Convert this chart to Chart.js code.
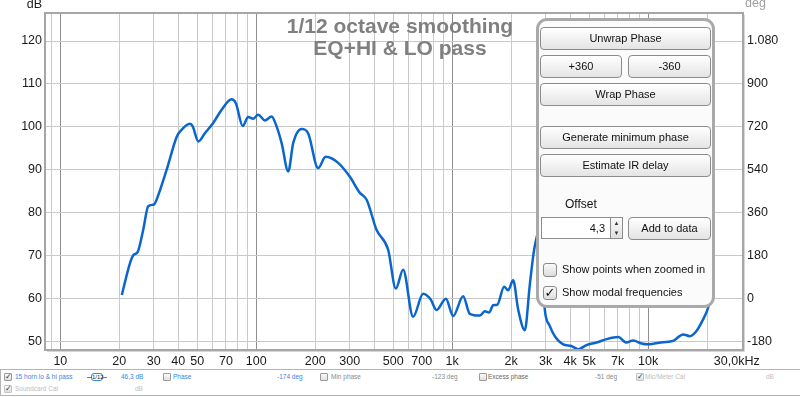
<!DOCTYPE html>
<html>
<head>
<meta charset="utf-8">
<script src="https://cdn.jsdelivr.net/npm/chart.js@4/dist/chart.umd.min.js"></script>
<style>
  html, body { margin: 0; padding: 0; background: #fff; }
  body { width: 800px; height: 397px; position: relative; overflow: hidden; font-family: "Liberation Sans", Arial, sans-serif; }
  #chart { position: absolute; left: 0; top: 0; }
  .abs { position: absolute; }
  .panel { left: 536px; top: 18px; width: 179px; height: 290px; box-sizing: border-box;
           border: 3px solid #a9a9a9; border-radius: 11px; background: #fbfbfb; }
  .btn { box-sizing: border-box; border: 1px solid #8c8c8c; border-radius: 4px;
         background: linear-gradient(#ffffff, #e4e4e4); font-size: 11px; color: #111;
         text-align: center; }
  .cb { box-sizing: border-box; width: 14px; height: 14px; border: 1px solid #8a8a8a; border-radius: 3px;
        background: linear-gradient(#fafafa, #dcdcdc); font-family: "DejaVu Sans", sans-serif;
        font-size: 13px; font-weight: bold; line-height: 12px; text-align: center; color: #111; }
  .lbl { font-size: 11px; color: #111; white-space: nowrap; }
  .legend { left: 0; top: 369px; width: 800px; height: 27px; box-sizing: border-box;
            border-top: 1px solid #b4b4b4; border-bottom: 1px solid #b4b4b4; border-left: 1px solid #b4b4b4; background: #fff; }
  .lg { font-size: 6.5px; white-space: nowrap; }
  .blue { color: #3a84e0; }
  .gray { color: #8a8a8a; }
  .lgray { color: #bdbdbd; }
  .mini { box-sizing: border-box; width: 8px; height: 8px; border: 1px solid #9a9a9a; border-radius: 1px;
          background: linear-gradient(#fafafa, #e0e0e0); font-family: "DejaVu Sans", sans-serif;
          font-size: 8px; line-height: 6px; text-align: center; font-weight: bold; color: #333; }
</style>
</head>
<body>
<canvas id="chart" width="800" height="369"></canvas>

<!-- phase tool panel over the plot -->
<div class="abs panel"></div>
<div class="abs btn" style="left:540px;top:27px;width:171px;height:23px;line-height:21px;">Unwrap Phase</div>
<div class="abs btn" style="left:540px;top:55px;width:82px;height:23px;line-height:21px;">+360</div>
<div class="abs btn" style="left:628px;top:55px;width:83px;height:23px;line-height:21px;">-360</div>
<div class="abs btn" style="left:540px;top:83px;width:171px;height:23px;line-height:21px;">Wrap Phase</div>
<div class="abs btn" style="left:540px;top:126px;width:171px;height:23px;line-height:21px;">Generate minimum phase</div>
<div class="abs btn" style="left:540px;top:154px;width:171px;height:23px;line-height:21px;">Estimate IR delay</div>
<div class="abs lbl" style="left:565px;top:197px;font-size:12px;">Offset</div>
<div class="abs" style="left:541px;top:217px;width:70px;height:22px;box-sizing:border-box;border:1px solid #8c8c8c;background:#fff;font-size:11px;text-align:right;padding-right:5px;line-height:20px;color:#111;">4,3</div>
<div class="abs" style="left:610px;top:217px;width:13px;height:22px;box-sizing:border-box;border:1px solid #8c8c8c;background:linear-gradient(#fafafa,#e0e0e0);font-size:6px;line-height:10px;text-align:center;color:#333;">&#9650;<br>&#9660;</div>
<div class="abs btn" style="left:628px;top:217px;width:83px;height:23px;line-height:21px;">Add to data</div>
<div class="abs cb" style="left:543px;top:263px;"></div>
<div class="abs lbl" style="left:562px;top:263px;">Show points when zoomed in</div>
<div class="abs cb" style="left:543px;top:286px;">&#10003;</div>
<div class="abs lbl" style="left:562px;top:286px;">Show modal frequencies</div>

<!-- trace legend strip -->
<div class="abs legend"></div>
<div class="abs mini" style="left:4px;top:373px;">&#10003;</div>
<div class="abs lg blue" style="left:15px;top:373px;">15 horn lo &amp; hi pass</div>
<div class="abs" style="left:87px;top:373px;width:20px;height:8px;">
  <div class="abs" style="left:0;top:4px;width:20px;height:1px;background:#3a84e0;"></div>
  <div class="abs" style="left:4px;top:0;width:12px;height:8px;box-sizing:border-box;border:1px solid #3a84e0;border-radius:3px;background:#fff;font-size:6px;line-height:6px;text-align:center;color:#234;">1/12</div>
</div>
<div class="abs lg blue" style="left:121px;top:373px;">46,3 dB</div>
<div class="abs mini" style="left:163px;top:373px;"></div>
<div class="abs lg blue" style="left:173px;top:373px;">Phase</div>
<div class="abs lg blue" style="left:277px;top:373px;">-174 deg</div>
<div class="abs mini" style="left:320px;top:373px;"></div>
<div class="abs lg gray" style="left:331px;top:373px;">Min phase</div>
<div class="abs lg gray" style="left:432px;top:373px;">-123 deg</div>
<div class="abs mini" style="left:479px;top:373px;"></div>
<div class="abs lg" style="left:488px;top:373px;color:#666;">Excess phase</div>
<div class="abs lg gray" style="left:595px;top:373px;">-51 deg</div>
<div class="abs mini lgray" style="left:636px;top:373px;border-color:#c4c4c4;">&#10003;</div>
<div class="abs lg lgray" style="left:645px;top:373px;">Mic/Meter Cal</div>
<div class="abs lg lgray" style="left:766px;top:373px;">dB</div>
<div class="abs mini lgray" style="left:4px;top:385px;border-color:#c4c4c4;">&#10003;</div>
<div class="abs lg lgray" style="left:15px;top:385px;">Soundcard Cal</div>
<div class="abs lg lgray" style="left:135px;top:385px;">dB</div>

<script>
// Messkurve (Frequenz in Hz, Pegel in dB)
const freqs = [20.6, 22.7, 23.6, 24.8, 26.5, 28.1, 30.1, 31.0, 34.9, 39.3, 41.6, 45.9, 47.4, 50.6,
    54.7, 60.3, 66.6, 74.8, 78.7, 85.3, 91.0, 96.6, 102.3, 110.7, 119.8, 127, 134.8, 145.7,
    154.4, 170.4, 184, 207, 226, 262, 300, 338, 366, 411, 471, 516, 562, 632, 711, 776, 832,
    929, 1012, 1138, 1231, 1384, 1468, 1545, 1619, 1698, 1843, 1930, 2048, 2173, 2349, 2488,
    2580, 2642, 2800, 2972, 3150, 3340, 3685, 4060, 4395, 4850, 5458, 6138, 7035, 7762, 8395,
    9255, 10000, 11930, 13430, 15100, 16340, 17670, 19100, 20250, 21500];
const spl = [60.8, 68.3, 70.1, 70.8, 76.0, 81.5, 81.9, 83.0, 90.0, 97.7, 99.3, 100.7, 100.1, 96.6,
    98.5, 100.9, 104.0, 106.4, 105.5, 100.2, 102.3, 101.9, 102.8, 101.5, 102.4, 100.1, 96.2, 89.6,
    96.2, 99.5, 98.5, 90.4, 93.0, 91.6, 88.4, 84.6, 83.0, 76.0, 71.4, 62.3, 66.7, 55.7, 61.1, 59.8, 57.3,
    59.9, 55.9, 60.5, 56.4, 56.0, 57.0, 56.7, 58.4, 58.5, 62.7, 61.9, 64.2, 57.4, 52.6, 62.9,
    69.1, 72.2, 76.0, 57.4, 53.6, 51.2, 49.3, 48.9, 48.1, 49.1, 49.7, 50.5, 51.0, 49.7, 50.2,
    49.5, 49.3, 49.8, 50.1, 51.6, 51.2, 52.4, 55.1, 57.8, 63.0];

// Achsen
const freqGrid = [9, 10, 20, 30, 40, 50, 60, 70, 80, 90, 100, 200, 300, 400, 500, 600, 700, 800, 900,
    1000, 2000, 3000, 4000, 5000, 6000, 7000, 8000, 9000, 10000, 20000];
const freqLabels = {10: '10', 20: '20', 30: '30', 40: '40', 50: '50', 70: '70', 100: '100', 200: '200',
    300: '300', 500: '500', 700: '700', 1000: '1k', 2000: '2k', 3000: '3k', 4000: '4k', 5000: '5k',
    7000: '7k', 10000: '10k', 28360: '30,0kHz'};
const majorFreqs = [10, 100, 1000, 10000];
const dbTicks = [50, 60, 70, 80, 90, 100, 110, 120];
const degTicks = [-180, 0, 180, 360, 540, 720, 900, 1080];

const dbMin = 48.2, dbMax = 126.3;
const fMin = 8.45, fMax = 30170;

const fontFamily = '"Liberation Sans", Arial, sans-serif';

const framePlugin = {
    id: 'frame',
    beforeDraw(chart) {
        const ctx = chart.ctx;
        ctx.save();
        ctx.fillStyle = '#fff';
        ctx.fillRect(0, 0, chart.width, chart.height);
        ctx.restore();
    },
    afterDraw(chart) {
        const { ctx, chartArea: a } = chart;
        ctx.save();
        ctx.strokeStyle = '#a6a6a6';
        ctx.lineWidth = 2;
        ctx.strokeRect(a.left - 1, a.top - 1, a.right - a.left + 2, a.bottom - a.top + 2);
        ctx.strokeStyle = '#d6d6d6';
        ctx.lineWidth = 1;
        ctx.beginPath();
        ctx.moveTo(a.left + 1, a.bottom + 2.5);
        ctx.lineTo(a.right + 2.5, a.bottom + 2.5);
        ctx.lineTo(a.right + 2.5, a.top + 1);
        ctx.stroke();

        // Titel
        ctx.fillStyle = '#808080';
        ctx.font = 'bold 21px ' + fontFamily;
        ctx.textAlign = 'center';
        ctx.fillText('1/12 octave smoothing', 400, 33);
        ctx.fillText('EQ+HI & LO pass', 400, 55);

        // Einheiten
        ctx.font = '12.5px ' + fontFamily;
        ctx.textAlign = 'right';
        ctx.fillStyle = '#1a1a1a';
        ctx.fillText('dB', 42, 8);
        ctx.textAlign = 'left';
        ctx.fillStyle = '#a0a0a0';
        ctx.fillText('deg', 745, 7);
        ctx.restore();
    }
};

new Chart(document.getElementById('chart'), {
    type: 'line',
    data: {
        datasets: [{
            data: freqs.map((f, i) => ({ x: f, y: spl[i] })),
            borderColor: '#0a66cc',
            borderWidth: 2.5,
            pointRadius: 0,
            cubicInterpolationMode: 'monotone',
            fill: false
        }]
    },
    options: {
        responsive: false,
        animation: false,
        layout: { padding: { top: 14, left: 0, right: 0, bottom: 0 } },
        plugins: { legend: { display: false }, tooltip: { enabled: false } },
        scales: {
            x: {
                type: 'logarithmic',
                min: fMin,
                max: fMax,
                afterBuildTicks: scale => {
                    scale.ticks = freqGrid.concat([28360]).map(v => ({ value: v }));
                },
                afterFit: scale => { scale.height = 20; },
                border: { display: false },
                grid: {
                    drawTicks: false,
                    color: ctx => {
                        const v = ctx.tick ? ctx.tick.value : 0;
                        if (v === 28360) return 'rgba(0,0,0,0)';
                        return majorFreqs.includes(v) ? '#8e8e8e' : '#c9c9c9';
                    }
                },
                ticks: {
                    autoSkip: false,
                    maxRotation: 0,
                    padding: 5,
                    color: '#1a1a1a',
                    font: { family: fontFamily, size: 12.5 },
                    callback: v => freqLabels[v] || ''
                }
            },
            y: {
                position: 'left',
                min: dbMin,
                max: dbMax,
                afterBuildTicks: scale => { scale.ticks = dbTicks.map(v => ({ value: v })); },
                afterFit: scale => { scale.width = 46; },
                border: { display: false },
                grid: { drawTicks: false, color: '#c9c9c9' },
                ticks: {
                    padding: 4,
                    color: '#1a1a1a',
                    font: { family: fontFamily, size: 12.5 },
                    callback: v => String(v)
                }
            },
            y2: {
                position: 'right',
                min: (dbMin - 60) * 18,
                max: (dbMax - 60) * 18,
                afterBuildTicks: scale => { scale.ticks = degTicks.map(v => ({ value: v })); },
                afterFit: scale => { scale.width = 58; },
                border: { display: false },
                grid: { drawTicks: false, drawOnChartArea: false },
                ticks: {
                    padding: 5,
                    color: '#1a1a1a',
                    font: { family: fontFamily, size: 12.5 },
                    callback: v => String(v).replace(/\B(?=(\d{3})+(?!\d))/g, '.')
                }
            }
        }
    },
    plugins: [framePlugin]
});
</script>
</body>
</html>
